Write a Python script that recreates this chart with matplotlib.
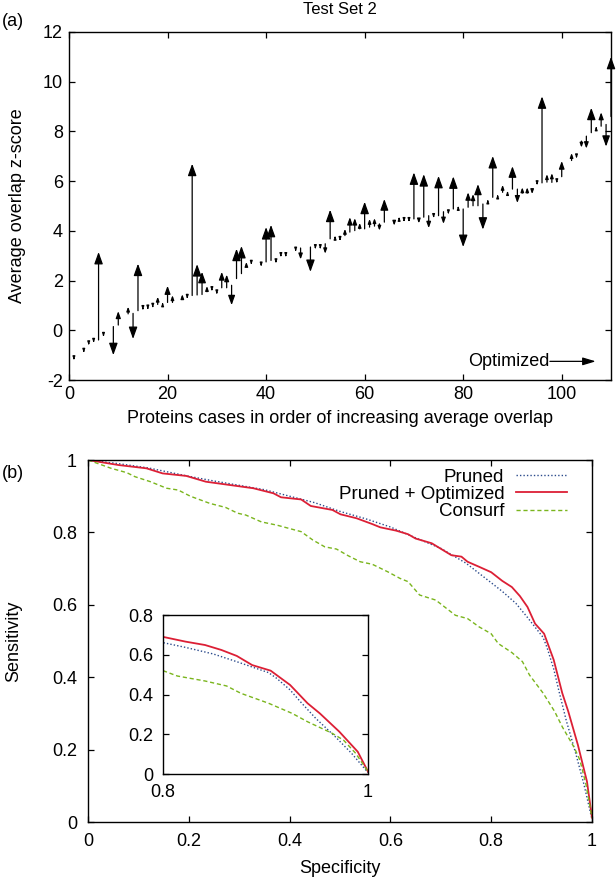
import numpy as np
import matplotlib
matplotlib.use('Agg')
import matplotlib.pyplot as plt
from matplotlib.patches import FancyArrowPatch

plt.rcParams['font.family'] = ['Liberation Sans', 'DejaVu Sans']
plt.rcParams['font.size'] = 13
plt.rcParams['axes.unicode_minus'] = False

# ---- panel (a): pruned -> optimized z-score per protein case
case = [1, 3, 4, 5, 6, 7, 9, 10, 12, 13, 14, 15, 16, 17, 18, 19, 20, 21, 23, 24,
        25, 26, 27, 28, 29, 30, 31, 32, 33, 34, 35, 36, 37, 39, 40, 41, 42, 43, 44, 46,
        47, 49, 50, 51, 52, 53, 54, 55, 56, 57, 58, 59, 60, 61, 62, 63, 64, 66, 67, 68,
        69, 70, 71, 72, 73, 74, 75, 76, 77, 78, 79, 80, 81, 82, 83, 84, 85, 86, 87, 88,
        89, 90, 91, 92, 93, 94, 95, 96, 97, 98, 99, 100, 102, 103, 104, 105, 106, 107, 108, 109,
        110]
pruned = [-1.12, -0.82, -0.52, -0.42, -0.39, -0.18, 0.15, 0.21, 0.66, 0.68, 0.79, 0.88, 0.90, 0.97, 1.04, 1.04, 1.12, 1.12, 1.30, 1.35,
          1.40, 1.42, 1.44, 1.55, 1.65, 1.52, 1.71, 1.71, 1.81, 2.08, 2.28, 2.60, 2.72, 2.65, 2.75, 2.81, 2.78, 3.02, 3.02, 3.24,
          3.31, 3.35, 3.34, 3.34, 3.48, 3.68, 3.72, 3.68, 3.81, 3.95, 4.01, 4.08, 4.08, 4.15, 4.19, 4.28, 4.35, 4.37, 4.48, 4.44,
          4.44, 4.48, 4.45, 4.55, 4.61, 4.60, 4.61, 4.77, 4.75, 4.88, 4.92, 4.88, 4.95, 5.01, 5.01, 5.08, 5.18, 5.35, 5.38, 5.55,
          5.52, 5.68, 5.68, 5.52, 5.52, 5.68, 5.92, 5.93, 5.96, 5.95, 6.00, 6.18, 6.83, 7.00, 7.61, 7.81, 7.95, 8.12, 8.21, 8.28,
          8.60]
optimized = [-1.20, -0.90, -0.60, -0.50, 3.15, -0.26, -1.00, 0.77, 0.95, -0.35, 2.68, 0.82, 0.84, 0.91, 1.35, 1.12, 1.79, 1.41, 1.45, 1.27,
             6.70, 2.66, 2.35, 1.78, 1.58, 1.45, 2.35, 2.24, 1.01, 3.28, 3.39, 2.75, 2.64, 2.57, 4.15, 4.24, 2.70, 2.95, 2.95, 3.17,
             2.85, 2.35, 3.27, 3.27, 3.08, 4.85, 3.80, 3.60, 4.08, 4.55, 4.51, 4.32, 5.17, 4.48, 4.51, 4.01, 5.28, 4.21, 4.56, 4.36,
             4.36, 6.35, 4.30, 6.28, 4.11, 4.52, 6.21, 4.28, 4.67, 6.19, 5.00, 3.35, 5.55, 5.48, 5.88, 4.05, 5.26, 7.01, 5.46, 5.85,
             5.60, 6.60, 5.12, 5.75, 5.75, 5.48, 5.84, 9.41, 6.28, 6.32, 5.92, 6.81, 7.13, 6.92, 7.35, 7.31, 8.95, 8.20, 8.77, 7.39,
             11.00]

# ---- panel (b): sensitivity vs specificity
spec_opt = [0, 0.061, 0.116, 0.148, 0.195, 0.234, 0.281, 0.328, 0.368, 0.383, 0.423, 0.442, 0.485, 0.501, 0.533,
            0.564, 0.580, 0.611, 0.635, 0.650, 0.682, 0.721, 0.741, 0.753, 0.776, 0.800, 0.822, 0.841, 0.857, 0.872,
            0.887, 0.905, 0.924, 0.941, 0.953, 0.972, 0.990, 1.0]
sens_opt = [1, 0.986, 0.977, 0.963, 0.956, 0.940, 0.931, 0.922, 0.908, 0.897, 0.891, 0.873, 0.862, 0.850, 0.839,
            0.823, 0.814, 0.805, 0.795, 0.783, 0.770, 0.737, 0.733, 0.719, 0.705, 0.690, 0.666, 0.649, 0.624, 0.594,
            0.548, 0.520, 0.448, 0.356, 0.305, 0.213, 0.112, 0.012]
spec_pru = [0, 0.06, 0.12, 0.2, 0.25, 0.3, 0.35, 0.4, 0.45, 0.5, 0.55, 0.6, 0.65, 0.7, 0.75, 0.8,
            0.822, 0.849, 0.872, 0.903, 0.911, 0.924, 0.934, 0.949, 0.968, 0.984, 1.0]
sens_pru = [1, 0.99, 0.978, 0.955, 0.942, 0.93, 0.918, 0.9, 0.882, 0.858, 0.838, 0.815, 0.785, 0.756, 0.715, 0.661,
            0.637, 0.604, 0.565, 0.510, 0.481, 0.423, 0.364, 0.280, 0.188, 0.104, 0.007]
spec_con = [0, 0.046, 0.077, 0.093, 0.124, 0.156, 0.179, 0.203, 0.242, 0.273, 0.297, 0.313, 0.344, 0.375,
            0.423, 0.446, 0.470, 0.493, 0.517, 0.540, 0.564, 0.595, 0.619, 0.635, 0.658, 0.690, 0.729, 0.753,
            0.776, 0.8, 0.814, 0.841, 0.862, 0.876, 0.903, 0.926, 0.941, 0.965, 0.976, 0.988, 1.0]
sens_con = [1, 0.977, 0.965, 0.954, 0.940, 0.922, 0.917, 0.900, 0.880, 0.869, 0.853, 0.848, 0.829, 0.820,
            0.802, 0.779, 0.760, 0.754, 0.735, 0.719, 0.712, 0.691, 0.673, 0.664, 0.627, 0.613, 0.571, 0.562,
            0.539, 0.520, 0.493, 0.468, 0.443, 0.406, 0.356, 0.305, 0.263, 0.205, 0.171, 0.104, 0.012]

c_red = '#dc1f35'
c_blue = '#2b4b8c'
c_green = '#7ab51d'


def gnuplot_ticks(ax, pad):
    ax.tick_params(direction='in', length=4, width=0.9, top=True, right=True, pad=pad)
    for s in ax.spines.values():
        s.set_linewidth(1.0)


fig = plt.figure(figsize=(6.16, 8.8), dpi=100)

# ================= (a)
ax1 = fig.add_axes([69/616, 1-380/880, 542/616, 348/880])
ax1.set_xlim(0, 110)
ax1.set_ylim(-2, 12)
ax1.set_xticks(range(0, 101, 20))
ax1.set_yticks(range(-2, 13, 2))
gnuplot_ticks(ax1, 4.5)
ax1.set_ylabel('Average overlap z-score')
ax1.yaxis.set_label_coords(-0.079, 0.5)
ax1.set_xlabel('Proteins cases in order of increasing average overlap')
ax1.xaxis.set_label_coords(0.5, -0.085)
fig.text(340/616, 1 - 9/880, 'Test Set 2', ha='center', va='center', fontsize=12)

fig.canvas.draw()
tr = ax1.transData
for xi, s, e in zip(case, pruned, optimized):
    p0 = tr.transform((xi, s))
    p1 = tr.transform((xi, e))
    L = abs(p1[1] - p0[1])
    hl = min(max(0.4 * L, 3.5), 10)
    if L < hl:
        hl = max(L, 2.5)
    hw = 0.36 * hl
    arr = FancyArrowPatch((xi, s), (xi, e),
                          arrowstyle='-|>,head_length=%.2f,head_width=%.2f' % (hl * 0.72, hw * 0.72),
                          mutation_scale=1, lw=0.9, color='black',
                          shrinkA=0, shrinkB=0, clip_on=False)
    ax1.add_patch(arr)

ax1.text(97.6, -1.25, 'Optimized', ha='right', va='center', fontsize=13)
ax1.annotate('', xy=(106.9, -1.25), xytext=(97.6, -1.25),
             arrowprops=dict(arrowstyle='-|>,head_length=0.6,head_width=0.18',
                             color='black', lw=0.9, shrinkA=0, shrinkB=0))

fig.text(0.003, 1 - 22/880, '(a)', ha='left', va='center', fontsize=13)

# ================= (b)
ax2 = fig.add_axes([88/616, 1-822/880, 504/616, 362/880])
ax2.plot(spec_pru, sens_pru, color=c_blue, lw=1.0, linestyle=(0, (1, 1.5)), label='Pruned')
ax2.plot(spec_opt, sens_opt, color=c_red, lw=1.3, label='Pruned + Optimized')
ax2.plot(spec_con, sens_con, color=c_green, lw=1.0, linestyle=(0, (3, 2)), label='Consurf')
ax2.set_xlim(0, 1)
ax2.set_ylim(0, 1)
ticks = [0, 0.2, 0.4, 0.6, 0.8, 1]
ax2.set_xticks(ticks)
ax2.set_yticks(ticks)
ax2.set_xticklabels(['0', '0.2', '0.4', '0.6', '0.8', '1'])
ax2.set_yticklabels(['0', '0.2', '0.4', '0.6', '0.8', '1'])
gnuplot_ticks(ax2, 8)
ax2.set_xlabel('Specificity')
ax2.xaxis.set_label_coords(0.5, -0.105)
ax2.set_ylabel('Sensitivity')
ax2.yaxis.set_label_coords(-0.131, 0.5)
leg = ax2.legend(loc='upper right', bbox_to_anchor=(0.95, 0.976), frameon=False,
                 markerfirst=False, handlelength=2.7, handletextpad=0.64,
                 labelspacing=0.0, borderpad=0, borderaxespad=0, fontsize=13.5)
for t in leg.get_texts():
    t.set_ha('right')

fig.text(0.003, 1 - 473/880, '(b)', ha='left', va='center', fontsize=13)

# inset
ax3 = fig.add_axes([163/616, 1-774/880, 205/616, 159/880])
ax3.plot(spec_pru, sens_pru, color=c_blue, lw=1.0, linestyle=(0, (1, 1.5)))
ax3.plot(spec_opt, sens_opt, color=c_red, lw=1.3)
ax3.plot(spec_con, sens_con, color=c_green, lw=1.0, linestyle=(0, (3, 2)))
ax3.set_xlim(0.8, 1)
ax3.set_ylim(0, 0.8)
ax3.set_xticks([0.8, 1])
ax3.set_xticklabels(['0.8', '1'])
ax3.set_yticks([0, 0.2, 0.4, 0.6, 0.8])
ax3.set_yticklabels(['0', '0.2', '0.4', '0.6', '0.8'])
ax3.tick_params(direction='in', length=4, width=0.9, right=True, pad=7)
ax3.tick_params(axis='x', length=0, pad=7)
for s in ax3.spines.values():
    s.set_linewidth(1.0)

fig.savefig('out.png', dpi=100)
